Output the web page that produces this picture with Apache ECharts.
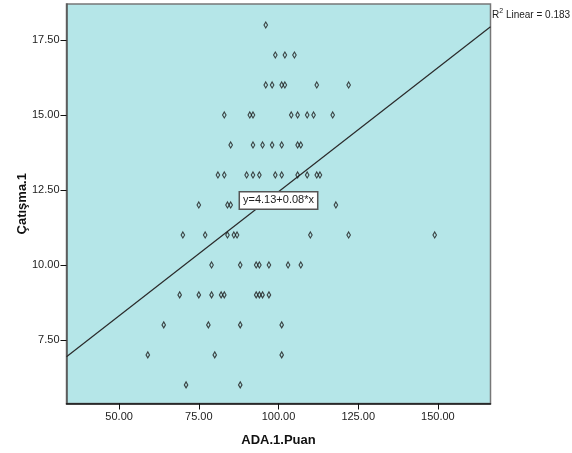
<!DOCTYPE html>
<html>
<head>
<meta charset="utf-8">
<script src="https://cdn.jsdelivr.net/npm/echarts@6/dist/echarts.min.js"></script>
<style>html,body{margin:0;padding:0;background:#fff}#c{width:572px;height:453px}</style>
</head>
<body>
<div id="c"></div>
<script>
// Data: ADA.1.Puan (x) vs Çatışma.1 (y)
const xValues = [
  96,
  99, 102, 105,
  96, 98, 101, 102, 112, 122,
  83, 91, 92, 104, 106, 109, 111, 117,
  85, 92, 95, 98, 101, 106, 107,
  81, 83, 90, 92, 94, 99, 101, 106, 109, 112, 113,
  75, 84, 85, 118,
  70, 77, 84, 86, 87, 110, 122, 149,
  79, 88, 93, 94, 97, 103, 107,
  69, 75, 79, 82, 83, 93, 94, 95, 97,
  64, 78, 88, 101,
  59, 80, 101,
  71, 88
];
const yValues = [
  18,
  17, 17, 17,
  16, 16, 16, 16, 16, 16,
  15, 15, 15, 15, 15, 15, 15, 15,
  14, 14, 14, 14, 14, 14, 14,
  13, 13, 13, 13, 13, 13, 13, 13, 13, 13, 13,
  12, 12, 12, 12,
  11, 11, 11, 11, 11, 11, 11, 11,
  10, 10, 10, 10, 10, 10, 10,
  9, 9, 9, 9, 9, 9, 9, 9, 9,
  8, 8, 8, 8,
  7, 7, 7,
  6, 6
];
const xTicks = [50, 75, 100, 125, 150];
const yTicks = [7.5, 10, 12.5, 15, 17.5];
const xRange = [33.5, 166.5];
const yRange = [5.38, 18.7];
const fitIntercept = 4.17;
const fitSlope = 0.0827;
const fitLabel = 'y=4.13+0.08*x';
const fitLabelPos = [100, 12.15];
const r2Text = '0.183';

const points = xValues.map((x, i) => [x, yValues[i]]);
const fitLine = xRange.map(x => [x, fitIntercept + fitSlope * x]);

const FONT = '"Liberation Sans", Arial, sans-serif';
const chart = echarts.init(document.getElementById('c'), null, {renderer: 'canvas'});
chart.setOption({
  animation: false,
  backgroundColor: '#ffffff',
  textStyle: {fontFamily: FONT},
  title: {
    left: 492, top: 8, padding: 0,
    text: '{a|R}{s|2}{a| Linear = ' + r2Text + '}',
    textStyle: {
      fontWeight: 'normal',
      rich: {
        a: {fontFamily: FONT, fontSize: 10, fontWeight: 'normal', color: '#222', verticalAlign: 'bottom', lineHeight: 12},
        s: {fontFamily: FONT, fontSize: 7, fontWeight: 'normal', color: '#222', verticalAlign: 'top', lineHeight: 12, padding: [0, 0, 5, 0]}
      }
    }
  },
  grid: {
    left: 66.5, right: 81.5, top: 4, bottom: 49.5,
    show: true, backgroundColor: '#b5e6e8', borderColor: '#777', borderWidth: 1.5
  },
  xAxis: {
    type: 'value', min: xRange[0], max: xRange[1],
    name: 'ADA.1.Puan', nameLocation: 'middle', nameGap: 30, nameMoveOverlap: false,
    nameTextStyle: {fontFamily: FONT, fontSize: 13, fontWeight: 'bold', color: '#111'},
    axisLine: {show: true, lineStyle: {color: '#111', width: 1.5}},
    axisTick: {show: true, length: 6, lineStyle: {color: '#111'}, customValues: xTicks},
    axisLabel: {fontFamily: FONT, fontSize: 11, color: '#222', margin: 8, customValues: xTicks,
      formatter: v => v.toFixed(2)},
    splitLine: {show: false}
  },
  yAxis: {
    type: 'value', min: yRange[0], max: yRange[1],
    name: 'Çatışma.1', nameLocation: 'middle', nameGap: 38, nameMoveOverlap: false,
    nameTextStyle: {fontFamily: FONT, fontSize: 13, fontWeight: 'bold', color: '#111'},
    axisLine: {show: true, lineStyle: {color: '#555', width: 1.5}},
    axisTick: {show: true, length: 6, lineStyle: {color: '#111'}, customValues: yTicks},
    axisLabel: {fontFamily: FONT, fontSize: 11, color: '#222', margin: 7, customValues: yTicks,
      formatter: v => v.toFixed(2)},
    splitLine: {show: false}
  },
  series: [
    {
      type: 'line', data: fitLine, symbol: 'none', silent: true,
      lineStyle: {color: '#2a2a2a', width: 1.2},
      markPoint: {
        symbol: 'rect', symbolSize: 1,
        itemStyle: {color: 'rgba(0,0,0,0)'},
        data: [{coord: fitLabelPos}],
        label: {
          show: true, position: 'inside', formatter: fitLabel,
          fontFamily: FONT, fontSize: 11, color: '#222',
          backgroundColor: '#ffffff', borderColor: '#555', borderWidth: 1.5,
          padding: [3, 3, 2, 3]
        }
      }
    },
    {
      type: 'scatter', data: points, symbol: 'diamond', symbolSize: [3.5, 6],
      itemStyle: {color: 'rgba(0,0,0,0)', borderColor: '#1a1a1a', borderWidth: 1.2},
      z: 3
    }
  ]
});
</script>
</body>
</html>
